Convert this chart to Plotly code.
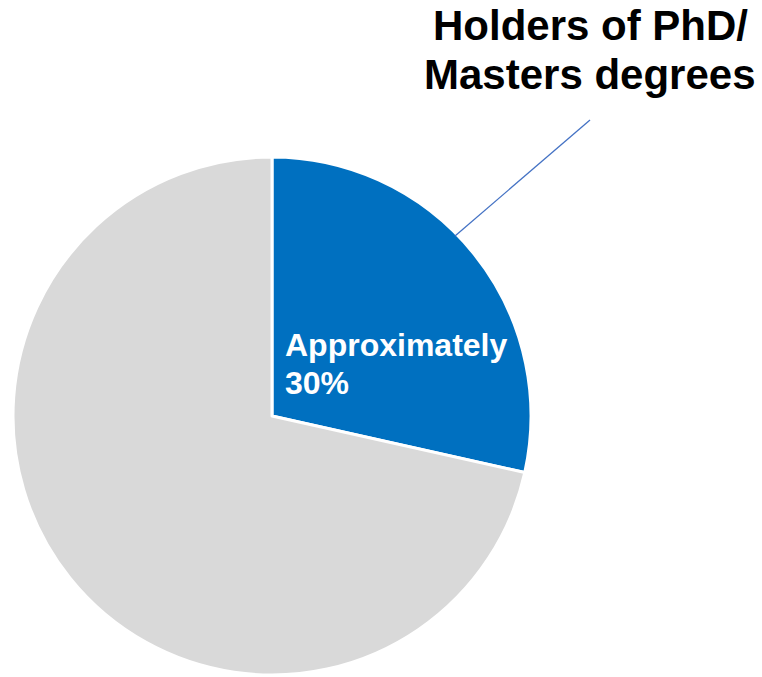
import plotly.graph_objects as go

# Share of staff by highest qualification
categories = ["Holders of PhD/Masters degrees", "Other"]
shares = [28.5, 71.5]
slice_colors = ["#0070C0", "#D9D9D9"]

title_lines = ["Holders of PhD/", "Masters degrees"]
inside_lines = ["Approximately", "30%"]

W, H = 762, 677


def px(x):
    return x / W


def py(y):
    return 1 - y / H


fig = go.Figure(
    go.Pie(
        labels=categories,
        values=shares,
        sort=False,
        direction="clockwise",
        rotation=0,
        marker=dict(colors=slice_colors, line=dict(color="white", width=3)),
        textinfo="none",
        hoverinfo="label+percent",
        showlegend=False,
        domain=dict(x=[px(13), px(531)], y=[py(675), py(157)]),
    )
)

annotations = []
# Title, two centred lines
for i, line in enumerate(title_lines):
    annotations.append(
        dict(
            text=f"<b>{line}</b>",
            x=px(590), y=py(25 + i * 50),
            xref="paper", yref="paper",
            xanchor="center", yanchor="middle",
            showarrow=False,
            font=dict(family="Liberation Sans, Arial, sans-serif", size=42, color="black"),
        )
    )

# Label inside the highlighted slice
for i, line in enumerate(inside_lines):
    annotations.append(
        dict(
            text=f"<b>{line}</b>",
            x=px(283), y=py(345 + i * 38),
            xref="paper", yref="paper",
            xanchor="left", yanchor="middle",
            showarrow=False,
            font=dict(family="Liberation Sans, Arial, sans-serif", size=32, color="white"),
        )
    )

fig.update_layout(
    width=W,
    height=H,
    margin=dict(l=0, r=0, t=0, b=0),
    paper_bgcolor="white",
    plot_bgcolor="white",
    annotations=annotations,
    shapes=[
        dict(
            type="line",
            xref="paper", yref="paper",
            x0=px(455), y0=py(236), x1=px(590), y1=py(120),
            line=dict(color="#4472C4", width=1.3),
        )
    ],
)

fig.write_html("out.html")
